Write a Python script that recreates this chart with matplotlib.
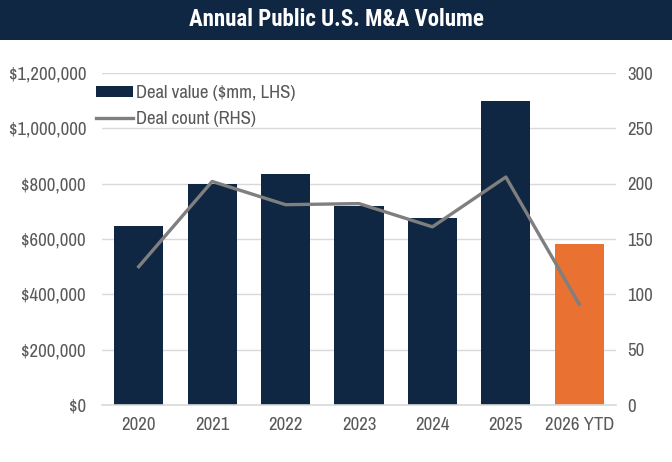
import matplotlib.pyplot as plt
from matplotlib.patches import Rectangle
from matplotlib.ticker import FuncFormatter

years = ['2020', '2021', '2022', '2023', '2024', '2025', '2026 YTD']
deal_value = [647000, 800000, 836000, 720000, 677000, 1100000, 582000]
deal_count = [125, 202, 181, 182, 161, 206, 91]

navy = '#0F2742'
orange = '#E97132'
grey_line = '#7F7F7F'
text_col = '#595959'

plt.rcParams['font.family'] = ['Archivo Narrow', 'DejaVu Sans']
plt.rcParams['font.size'] = 13.5

fig = plt.figure(figsize=(6.72, 4.62), dpi=100)
ax = fig.add_axes([102/672, 1 - 405/462, 514/672, 332/462])

# title band
fig.patches.append(Rectangle((0, 1 - 40/462), 1, 40/462, transform=fig.transFigure,
                             facecolor=navy, edgecolor='none', zorder=0))
fig.text(0.5, 1 - 20/462, 'Annual Public U.S. M&A Volume', color='white',
         fontsize=16.5, fontweight='bold', ha='center', va='center',
         family=['Roboto Condensed', 'PT Sans Narrow', 'DejaVu Sans'])

x = list(range(len(years)))
colors = [navy] * (len(years) - 1) + [orange]
bars = ax.bar(x, deal_value, width=0.67, color=colors, zorder=2,
              label='Deal value ($mm, LHS)')
ax.set_xlim(-0.5, len(years) - 0.5)
ax.set_ylim(0, 1200000)
ax.set_yticks(range(0, 1200001, 200000))
ax.yaxis.set_major_formatter(FuncFormatter(lambda v, p: '${:,.0f}'.format(v)))
ax.grid(axis='y', color='#D9D9D9', linewidth=1, zorder=0)
ax.set_axisbelow(True)
for s in ['top', 'right', 'left']:
    ax.spines[s].set_visible(False)
ax.spines['bottom'].set_color('#D9D9D9')
ax.spines['bottom'].set_linewidth(1.2)
ax.set_xticks(x)
ax.set_xticklabels(years)
ax.tick_params(axis='both', length=0, colors=text_col, labelsize=13.5)
ax.tick_params(axis='y', pad=11.5)
ax.tick_params(axis='x', pad=9)

ax2 = ax.twinx()
line, = ax2.plot(x, deal_count, color=grey_line, linewidth=2.4, zorder=3,
                 label='Deal count (RHS)')
ax2.set_ylim(0, 300)
ax2.set_yticks(range(0, 301, 50))
for s in ax2.spines.values():
    s.set_visible(False)
ax2.tick_params(axis='y', length=0, colors=text_col, labelsize=13.5, pad=8)

leg = ax.legend([bars, line], ['Deal value ($mm, LHS)', 'Deal count (RHS)'],
                loc='upper left', bbox_to_anchor=(-0.027, 0.985), frameon=False,
                handlelength=2.0, handleheight=0.55, handletextpad=0.15,
                labelspacing=0.5, borderaxespad=0, fontsize=13.5)
for t in leg.get_texts():
    t.set_color(text_col)

fig.savefig('out.png', dpi=100)
